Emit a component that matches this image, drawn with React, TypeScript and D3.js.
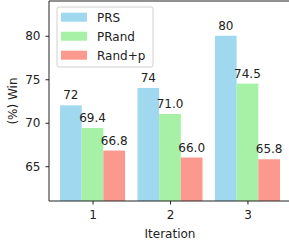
import React, { useRef, useEffect } from "react";
import { scaleLinear, axisBottom, axisLeft, select } from "d3";

const iterations = [1, 2, 3];
const seriesNames = ["PRS", "PRand", "Rand+p"];
const prsValues = [72, 74, 80];
const prandValues = [69.4, 71.0, 74.5];
const randpValues = [66.8, 66.0, 65.8];
const valueLabels = [
  ["72", "74", "80"],
  ["69.4", "71.0", "74.5"],
  ["66.8", "66.0", "65.8"]
];
const yTicks = [65, 70, 75, 80];
const colors = ["#9fd8ef", "#a6f1a6", "#fb998e"];

export default function App() {
  const width = 289,
    height = 244,
    marginLeft = 49,
    marginTop = 1,
    plotRight = 291,
    plotBottom = 201;
  const barW = 0.28;
  const font = "DejaVu Sans, sans-serif";
  const fs = "12px";

  const xAxisRef = useRef<SVGGElement>(null);
  const yAxisRef = useRef<SVGGElement>(null);

  const xScale = scaleLinear()
    .domain([1 - 1.5 * barW - 0.142, 3 + 1.5 * barW + 0.142])
    .range([marginLeft, plotRight]);
  const yScale = scaleLinear().domain([61, 84]).range([plotBottom, marginTop]);

  const series = [prsValues, prandValues, randpValues];

  useEffect(() => {
    const xAxis = axisBottom(xScale)
      .tickValues(iterations)
      .tickFormat(d => String(d))
      .tickSize(3.5)
      .tickPadding(6);
    const yAxis = axisLeft(yScale)
      .tickValues(yTicks)
      .tickFormat(d => String(d))
      .tickSize(3.5)
      .tickPadding(5);
    const gx = select(xAxisRef.current!).call(xAxis as any);
    const gy = select(yAxisRef.current!).call(yAxis as any);
    [gx, gy].forEach(g => {
      g.select(".domain").remove();
      g.selectAll("text")
        .style("font-family", font)
        .style("font-size", fs)
        .attr("fill", "#222");
      g.selectAll("line").attr("stroke", "#222");
    });
  }, []);

  return (
    <svg
      width={width}
      height={height}
      style={{ position: "absolute", left: 0, top: 0, background: "white" }}
    >
      {series.map((vals, si) =>
        vals.map((v, i) => {
          const cx = iterations[i] + (si - 1) * barW;
          const x0 = xScale(cx - barW / 2);
          const x1 = xScale(cx + barW / 2);
          return (
            <g key={`${si}-${i}`}>
              <rect
                x={x0}
                y={yScale(v)}
                width={x1 - x0}
                height={plotBottom - yScale(v)}
                fill={colors[si]}
              />
              <text
                x={(x0 + x1) / 2}
                y={yScale(v) - 6}
                textAnchor="middle"
                style={{ fontFamily: font, fontSize: fs, fill: "#222" }}
              >
                {valueLabels[si][i]}
              </text>
            </g>
          );
        })
      )}
      {/* spines */}
      <line x1={marginLeft} x2={marginLeft} y1={marginTop} y2={plotBottom} stroke="#222" />
      <line x1={marginLeft} x2={plotRight} y1={plotBottom} y2={plotBottom} stroke="#222" />
      <line x1={marginLeft} x2={plotRight} y1={marginTop} y2={marginTop} stroke="#222" />
      <g ref={xAxisRef} transform={`translate(0,${plotBottom})`} />
      <g ref={yAxisRef} transform={`translate(${marginLeft},0)`} />
      <text
        transform={`translate(16.5, ${(marginTop + plotBottom) / 2}) rotate(-90)`}
        textAnchor="middle"
        style={{ fontFamily: font, fontSize: fs, fill: "#222" }}
      >
        (%) Win
      </text>
      <text
        x={(marginLeft + plotRight) / 2}
        y={238}
        textAnchor="middle"
        style={{ fontFamily: font, fontSize: fs, fill: "#222" }}
      >
        Iteration
      </text>
      {/* legend */}
      <rect
        x={57}
        y={7}
        width={96}
        height={60}
        rx={2}
        fill="white"
        fillOpacity={0.8}
        stroke="#d0d0d0"
      />
      {seriesNames.map((name, i) => (
        <g key={name} transform={`translate(61, ${12.7 + i * 19})`}>
          <rect width={26} height={9} fill={colors[i]} />
          <text
            x={36}
            y={8.8}
            style={{ fontFamily: font, fontSize: fs, fill: "#222" }}
          >
            {name}
          </text>
        </g>
      ))}
    </svg>
  );
}
